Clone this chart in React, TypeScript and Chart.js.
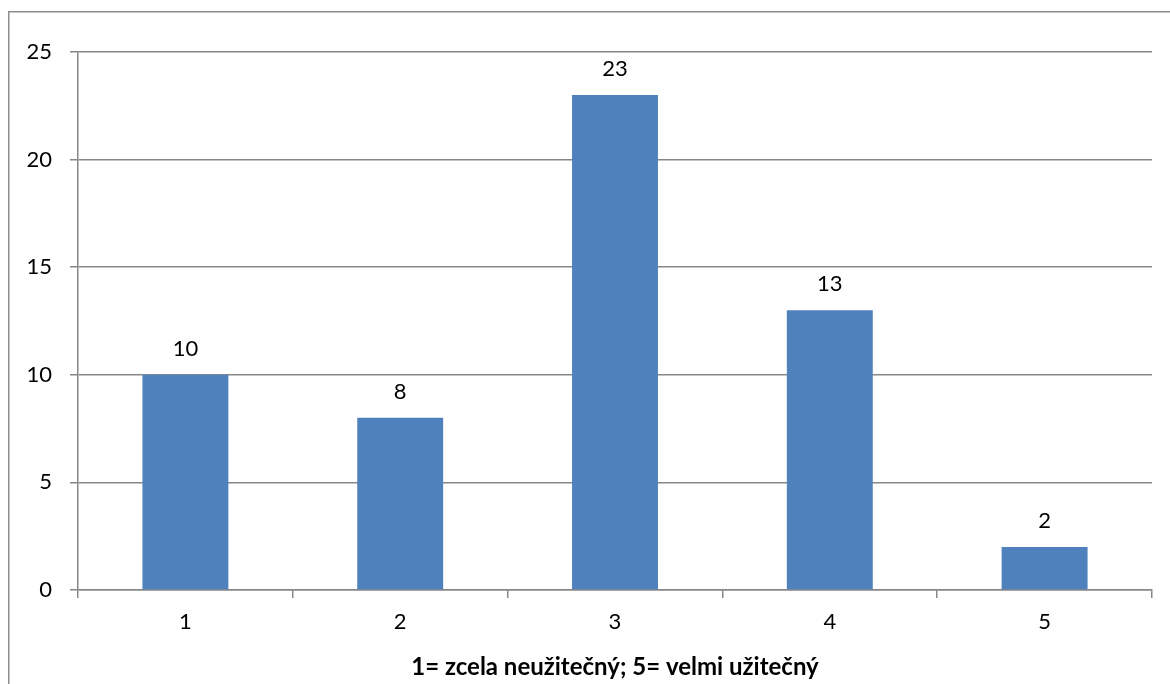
import React, { useEffect, useRef } from 'react';
import { Chart, registerables } from 'chart.js';

Chart.register(...registerables);

// Survey answers: usefulness rated on a 1–5 scale
const categories = ['1', '2', '3', '4', '5'];
const counts = [10, 8, 23, 13, 2];
const yMin = 0;
const yMax = 25;
const yStep = 5;
const xAxisTitle = '1= zcela neužitečný; 5= velmi užitečný';

const FONT = 'Lato, "Noto Sans", sans-serif';
const BAR_COLOR = '#4F81BD';
const LINE_COLOR = '#878787';

// Frame line along the top and left edges of the drawing
const framePlugin = {
  id: 'frame',
  beforeDraw(chart: any) {
    const { ctx, width, height } = chart;
    ctx.save();
    ctx.fillStyle = '#ffffff';
    ctx.fillRect(0, 0, width, height);
    ctx.strokeStyle = '#8c8c8c';
    ctx.lineWidth = 1.5;
    ctx.beginPath();
    ctx.moveTo(8.75, height);
    ctx.lineTo(8.75, 11.75);
    ctx.lineTo(width, 11.75);
    ctx.stroke();
    ctx.restore();
  },
};

// Value printed above each bar
const valueLabelPlugin = {
  id: 'valueLabels',
  afterDatasetsDraw(chart: any) {
    const { ctx } = chart;
    const meta = chart.getDatasetMeta(0);
    const values = chart.data.datasets[0].data as number[];
    ctx.save();
    ctx.font = `22px ${FONT}`;
    ctx.fillStyle = '#000000';
    ctx.textAlign = 'center';
    ctx.textBaseline = 'middle';
    meta.data.forEach((bar: any, i: number) => {
      ctx.fillText(String(values[i]), bar.x, bar.y - 26);
    });
    ctx.restore();
  },
};

export default function App() {
  const canvasRef = useRef<HTMLCanvasElement | null>(null);

  useEffect(() => {
    const canvas = canvasRef.current;
    if (!canvas) return;
    const chart = new Chart(canvas, {
      type: 'bar',
      data: {
        labels: categories,
        datasets: [
          {
            data: counts,
            backgroundColor: BAR_COLOR,
            borderWidth: 0,
            barPercentage: 0.4,
            categoryPercentage: 1,
          },
        ],
      },
      options: {
        responsive: false,
        animation: false,
        devicePixelRatio: 1,
        layout: { padding: { left: 0, right: 18, top: 52, bottom: 0 } },
        plugins: {
          legend: { display: false },
          tooltip: { enabled: false },
          title: { display: false },
        },
        scales: {
          x: {
            grid: {
              display: true,
              drawOnChartArea: false,
              offset: true,
              tickLength: 8,
              color: LINE_COLOR,
              lineWidth: 1.5,
            },
            border: { display: true, color: LINE_COLOR, width: 1.5 },
            ticks: {
              color: '#000000',
              font: { family: FONT, size: 22 },
              padding: 11,
              maxRotation: 0,
            },
            title: {
              display: true,
              text: xAxisTitle,
              color: '#000000',
              font: { family: FONT, size: 24, weight: 'bold' },
              padding: { top: 0, bottom: 2 },
            },
            afterFit(scale: any) {
              scale.height = 94;
            },
          },
          y: {
            min: yMin,
            max: yMax,
            ticks: {
              stepSize: yStep,
              color: '#000000',
              font: { family: FONT, size: 22 },
              padding: 18,
            },
            grid: {
              color: LINE_COLOR,
              lineWidth: 1.5,
              tickLength: 8,
              drawTicks: true,
            },
            border: { display: true, color: LINE_COLOR, width: 1.5 },
            afterFit(scale: any) {
              scale.width = 78;
            },
          },
        },
      },
      plugins: [framePlugin, valueLabelPlugin],
    });
    return () => chart.destroy();
  }, []);

  return (
    <canvas
      ref={canvasRef}
      width={1170}
      height={684}
      style={{ position: 'fixed', left: 0, top: 0, width: 1170, height: 684 }}
    />
  );
}
